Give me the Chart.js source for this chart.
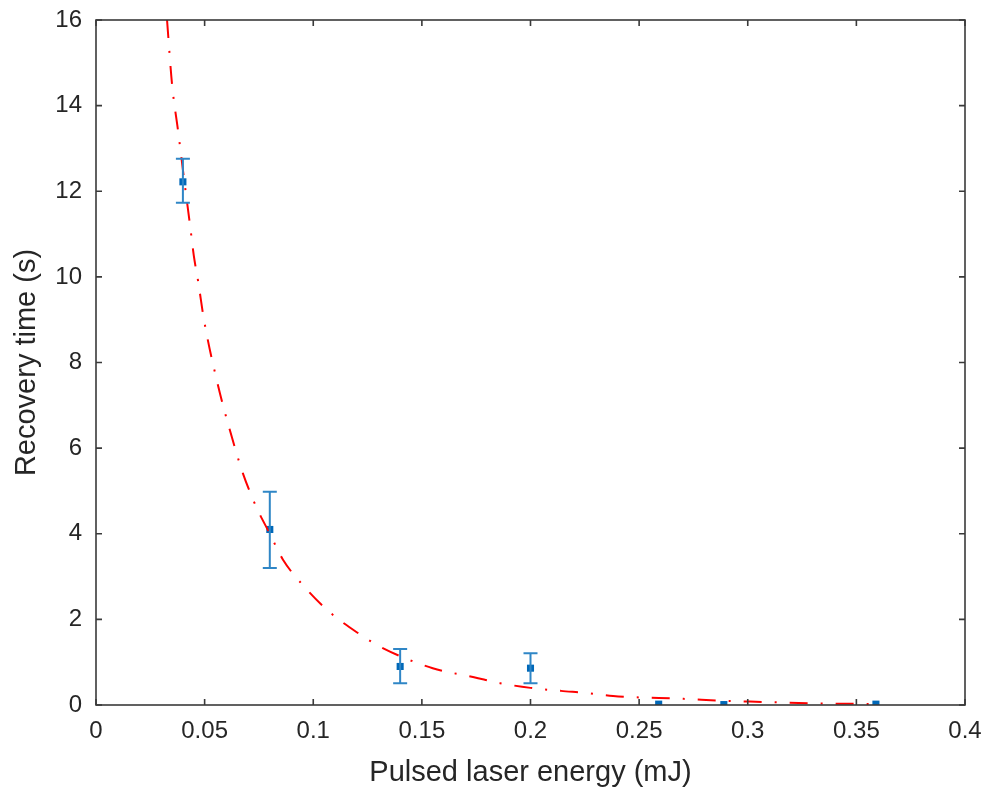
<!DOCTYPE html>
<html>
<head>
<meta charset="utf-8">
<script src="https://cdn.jsdelivr.net/npm/chart.js@4.4.1/dist/chart.umd.min.js"></script>
<style>
  body { margin: 0; background: #fff; }
  #wrap { width: 990px; height: 800px; }
</style>
</head>
<body>
<div id="wrap"><canvas id="recoveryChart"></canvas></div>
<script>
// measured points
const energy = [0.04, 0.08, 0.14, 0.2, 0.259, 0.289, 0.359];
const recovery = [12.22, 4.1, 0.9, 0.86, 0.02, 0.01, 0.02];
const errLow = [11.73, 3.2, 0.51, 0.51, null, null, null];
const errHigh = [12.76, 4.98, 1.31, 1.21, null, null, null];

// fitted curve
const fitX = [0.0327, 0.035, 0.0378, 0.0405, 0.0433, 0.045, 0.047, 0.0497, 0.056, 0.064,
  0.0677, 0.0718, 0.074, 0.08, 0.086, 0.097, 0.108, 0.12, 0.132, 0.155, 0.174, 0.186,
  0.2, 0.214, 0.226, 0.238, 0.272, 0.287, 0.301, 0.33, 0.36];
const fitY = [16.0, 14.5, 13.4, 12.3, 11.2, 10.5, 9.9, 9.0, 7.5, 6.0,
  5.4, 4.86, 4.6, 4.0, 3.4, 2.7, 2.15, 1.7, 1.33, 0.86, 0.65, 0.51,
  0.40, 0.33, 0.28, 0.21, 0.14, 0.1, 0.08, 0.04, 0.02];

const xTicks = [0, 0.05, 0.1, 0.15, 0.2, 0.25, 0.3, 0.35, 0.4];
const yTicks = [0, 2, 4, 6, 8, 10, 12, 14, 16];

const textColor = "#262626";
const fontName = "'Liberation Sans', Arial, sans-serif";

// error bars + inward tick marks on a closed box
const framePlugin = {
  id: "frame",
  afterDatasetsDraw(chart) {
    const ctx = chart.ctx;
    const xs = chart.scales.x;
    const ys = chart.scales.y;
    const a = chart.chartArea;
    ctx.save();

    // error bars
    ctx.strokeStyle = "#2f86c6";
    ctx.lineWidth = 2;
    for (let i = 0; i < energy.length; i++) {
      if (errLow[i] == null) continue;
      const px = xs.getPixelForValue(energy[i]);
      const lo = ys.getPixelForValue(errLow[i]);
      const hi = ys.getPixelForValue(errHigh[i]);
      ctx.beginPath();
      ctx.moveTo(px, lo);
      ctx.lineTo(px, hi);
      ctx.moveTo(px - 7, lo);
      ctx.lineTo(px + 7, lo);
      ctx.moveTo(px - 7, hi);
      ctx.lineTo(px + 7, hi);
      ctx.stroke();
    }

    // box
    ctx.strokeStyle = "#3a3a3a";
    ctx.lineWidth = 1.6;
    ctx.strokeRect(a.left, a.top, a.right - a.left, a.bottom - a.top);

    // ticks pointing in
    const len = 6;
    ctx.beginPath();
    xTicks.forEach((v) => {
      const px = xs.getPixelForValue(v);
      ctx.moveTo(px, a.bottom);
      ctx.lineTo(px, a.bottom - len);
      ctx.moveTo(px, a.top);
      ctx.lineTo(px, a.top + len);
    });
    yTicks.forEach((v) => {
      const py = ys.getPixelForValue(v);
      ctx.moveTo(a.left, py);
      ctx.lineTo(a.left + len, py);
      ctx.moveTo(a.right, py);
      ctx.lineTo(a.right - len, py);
    });
    ctx.stroke();
    ctx.restore();
  },
};

const ctx = document.getElementById("recoveryChart").getContext("2d");

new Chart(ctx, {
  type: "scatter",
  data: {
    datasets: [
      {
        label: "Fit",
        type: "line",
        data: fitX.map((x, i) => ({ x: x, y: fitY[i] })),
        borderColor: "#ff0000",
        borderWidth: 2,
        borderDash: [18, 13, 2, 13],
        pointRadius: 0,
        fill: false,
        cubicInterpolationMode: "monotone",
      },
      {
        label: "Measured",
        data: energy.map((x, i) => ({ x: x, y: recovery[i] })),
        pointStyle: "rect",
        pointRadius: 5,
        backgroundColor: "#0068b8",
        borderColor: "#0068b8",
        borderWidth: 0,
      },
    ],
  },
  options: {
    responsive: true,
    maintainAspectRatio: false,
    animation: false,
    layout: {
      padding: { top: 20, right: 25, left: 0, bottom: 0 },
    },
    plugins: {
      legend: { display: false },
      tooltip: { enabled: false },
    },
    scales: {
      x: {
        type: "linear",
        min: 0,
        max: 0.4,
        afterBuildTicks: (scale) => {
          scale.ticks = xTicks.map((v) => ({ value: v }));
        },
        afterFit: (scale) => {
          scale.height = 95;
          scale.paddingLeft = 0;
          scale.paddingRight = 0;
        },
        grid: { display: false, drawTicks: false },
        border: { display: false },
        ticks: {
          padding: 12,
          color: textColor,
          font: { family: fontName, size: 24 },
          maxRotation: 0,
          callback: (value) => String(value),
        },
        title: {
          display: true,
          text: "Pulsed laser energy (mJ)",
          color: textColor,
          font: { family: fontName, size: 29 },
          padding: { top: 0, bottom: 10 },
        },
      },
      y: {
        min: 0,
        max: 16,
        afterBuildTicks: (scale) => {
          scale.ticks = yTicks.map((v) => ({ value: v }));
        },
        afterFit: (scale) => {
          scale.width = 96;
          scale.paddingTop = 0;
          scale.paddingBottom = 0;
        },
        grid: { display: false, drawTicks: false },
        border: { display: false },
        ticks: {
          padding: 14,
          color: textColor,
          font: { family: fontName, size: 24 },
          callback: (value) => String(value),
        },
        title: {
          display: true,
          text: "Recovery time (s)",
          color: textColor,
          font: { family: fontName, size: 29 },
          padding: { top: 10, bottom: 0 },
        },
      },
    },
  },
  plugins: [framePlugin],
});
</script>
</body>
</html>
